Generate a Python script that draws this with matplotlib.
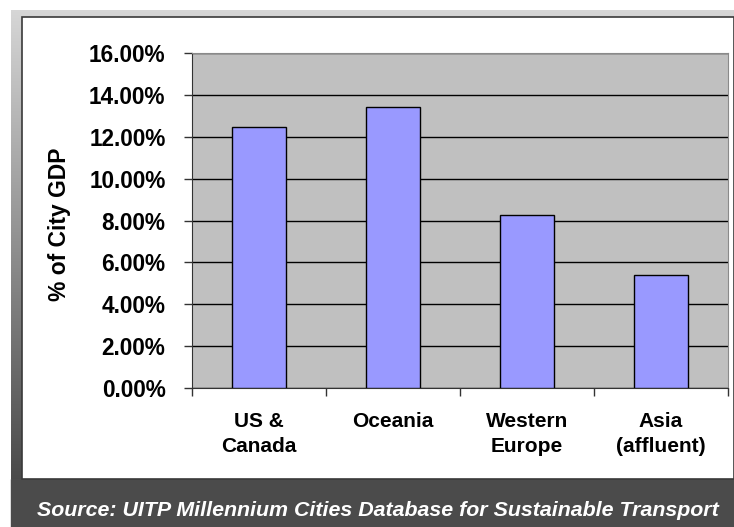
import matplotlib.pyplot as plt
import numpy as np

### DATA ###
regions = ["US &\nCanada", "Oceania", "Western\nEurope", "Asia\n(affluent)"]
gdp_share = [12.45, 13.42, 8.27, 5.40]  # % of city GDP
y_ticks = [0, 2, 4, 6, 8, 10, 12, 14, 16]
source = "Source: UITP Millennium Cities Database for Sustainable Transport"

W, H = 734, 527
plt.rcParams['font.family'] = ['Liberation Sans', 'DejaVu Sans']

fig = plt.figure(figsize=(W / 100, H / 100), dpi=100, facecolor='white')

### BACKGROUND FRAME ###
bg = fig.add_axes([0, 0, 1, 1])
bg.set_xlim(0, W)
bg.set_ylim(H, 0)
bg.axis('off')

# vertical gray gradient behind the white panel
grad = np.linspace(0, 1, 256).reshape(-1, 1)
top_c = np.array([0.84, 0.84, 0.84])
bot_c = np.array([0.29, 0.29, 0.29])
img = top_c + (bot_c - top_c) * grad[..., None]
img = img.repeat(2, axis=1)
bg.imshow(img, extent=(11, W, 479, 10), aspect='auto', zorder=0)
bg.add_patch(plt.Rectangle((11, 479), W - 11, H - 479, color='#4b4b4b', zorder=1))

# white panel
bg.add_patch(plt.Rectangle((22, 17), W - 22, 462, facecolor='white',
                           edgecolor='#3a3a3a', linewidth=1.2, zorder=2))

bg.text(378, 510, source, color='white', fontsize=15.4, fontweight='bold',
        fontstyle='italic', ha='center', va='center', zorder=3)

### CHART ###
ax = fig.add_axes([192 / W, (H - 388) / H, 536 / W, 335 / H])
ax.set_facecolor('#c0c0c0')

x = np.arange(len(regions))
ax.bar(x, gdp_share, width=0.4, color='#9999ff', edgecolor='black',
       linewidth=1.0, zorder=3)

ax.set_xlim(-0.5, len(regions) - 0.5)
ax.set_ylim(0, 16)
ax.set_yticks(y_ticks)
ax.set_yticklabels([f"{v:.2f}%" for v in y_ticks], fontsize=16.3, fontweight='bold')
ax.yaxis.grid(True, color='black', linewidth=1.0, zorder=1)
ax.set_axisbelow(True)

# category ticks sit on the boundaries, labels in the middle
ax.set_xticks(np.arange(len(regions) + 1) - 0.5)
ax.set_xticklabels([])
ax.set_xticks(x, minor=True)
ax.set_xticklabels(regions, minor=True, fontsize=15, fontweight='bold',
                   linespacing=1.45)
ax.tick_params(axis='x', which='minor', length=0, pad=17)
ax.tick_params(axis='x', which='major', length=6, width=1, color='#333333')
ax.tick_params(axis='y', length=6, width=1, pad=13, color='#333333')

ax.set_ylabel("% of City GDP", fontsize=16.5, fontweight='bold')
ax.yaxis.set_label_coords((71 - 192) / 536, 0.49)

for s in ['left', 'bottom']:
    ax.spines[s].set_color('#333333')
for s in ['right', 'top']:
    ax.spines[s].set_color('#8a8a8a')

fig.savefig("out.png", dpi=100, facecolor=fig.get_facecolor())
